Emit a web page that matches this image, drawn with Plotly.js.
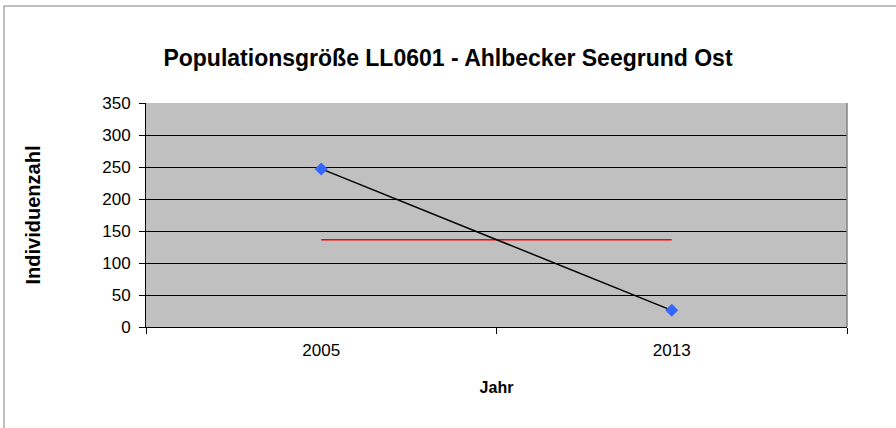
<!DOCTYPE html>
<html>
<head>
<meta charset="utf-8">
<script src="https://cdn.plot.ly/plotly-3.0.1.min.js"></script>
<style>html,body{margin:0;padding:0;background:#fff;}#chart{width:896px;height:428px;}</style>
</head>
<body>
<div id="chart"></div>
<script>
const years = ["2005", "2013"];
const counts = [247, 26];
const meanValue = [136.5, 136.5];
const yTicks = [0, 50, 100, 150, 200, 250, 300, 350];

const traces = [
  {
    x: years, y: meanValue, type: "scatter", mode: "lines",
    line: {color: "#FF0000", width: 1.5}, hoverinfo: "skip", showlegend: false
  },
  {
    x: years, y: counts, type: "scatter", mode: "lines+markers",
    line: {color: "#000000", width: 1.5},
    marker: {symbol: "diamond", size: 10, color: "#3366FF"},
    showlegend: false
  }
];

const layout = {
  width: 896, height: 428,
  margin: {l: 146, r: 49, t: 103, b: 101},
  paper_bgcolor: "#FFFFFF",
  plot_bgcolor: "#C0C0C0",
  font: {family: "Liberation Sans, Arial, sans-serif", size: 17, color: "#000"},
  title: {
    text: "<b>Populationsgröße LL0601 - Ahlbecker Seegrund Ost</b>",
    font: {size: 23, color: "#000"},
    x: 0.5, xanchor: "center", y: 0.865, yanchor: "middle"
  },
  xaxis: {
    type: "category", range: [-0.5, 1.5],
    tickson: "boundaries", ticks: "outside", ticklen: 6, tickcolor: "#000",
    ticklabelstandoff: 8,
    showgrid: false, showline: true, linecolor: "#000", linewidth: 1,
    tickfont: {size: 17},
    title: {text: "<b>Jahr</b>", font: {size: 16}, standoff: 22}
  },
  yaxis: {
    range: [0, 350], tickvals: yTicks, ticks: "outside", ticklen: 6, tickcolor: "#000",
    ticklabelstandoff: 5,
    showgrid: true, gridcolor: "#000", gridwidth: 1,
    showline: true, linecolor: "#000", linewidth: 1, zeroline: false,
    tickfont: {size: 17},
    title: {text: "<b>Individuenzahl</b>", font: {size: 20}, standoff: 56}
  },
  shapes: [
    {type: "line", xref: "paper", yref: "paper", x0: 1, x1: 1, y0: 0, y1: 1,
     line: {color: "#808080", width: 1.5}},
    {type: "rect", xref: "paper", yref: "paper", x0: -0.2026, x1: 1.2, y0: -0.6, y1: 1.433,
     line: {color: "#808080", width: 1}, layer: "below"}
  ]
};

Plotly.newPlot("chart", traces, layout, {displayModeBar: false, staticPlot: true});
</script>
</body>
</html>
